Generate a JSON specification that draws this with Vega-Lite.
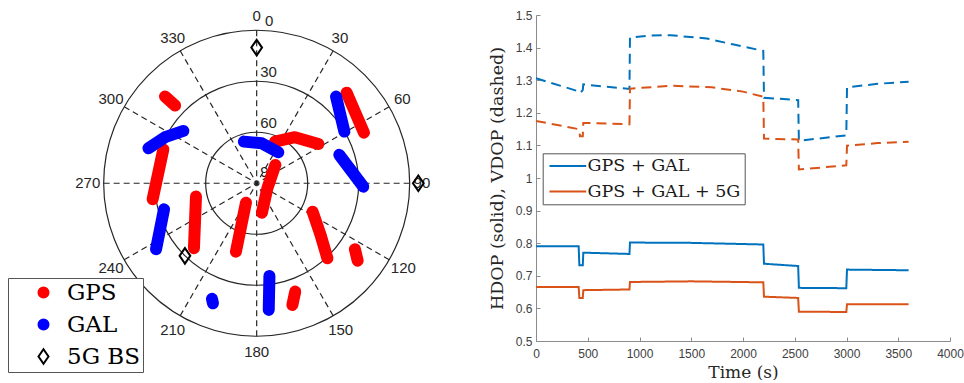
{
  "$schema": "https://vega.github.io/schema/vega-lite/v6.json",
  "padding": 0,
  "background": "white",
  "spacing": 66,
  "bounds": "flush",
  "center": true,
  "config": {"view": {"stroke": null}, "font": "Liberation Sans"},
  "resolve": {"scale": {"color": "independent", "size": "independent", "fill": "independent", "stroke": "independent", "shape": "independent", "strokeDash": "independent"}},
  "hconcat": [
    {
      "width": 470,
      "height": 356,
      "encoding": {
        "x": {"field": "e", "type": "quantitative", "scale": {"domain": [-151, 125.5], "nice": false, "zero": false}, "axis": null},
        "y": {"field": "n", "type": "quantitative", "scale": {"domain": [-101.6, 107.8], "nice": false, "zero": false}, "axis": null}
      },
      "layer": [
        {
          "data": {"values": [{"zen": 90, "e": 0, "n": 0}, {"zen": 60, "e": 0, "n": 0}, {"zen": 30, "e": 0, "n": 0}]},
          "mark": {"type": "point", "shape": "circle", "filled": false, "stroke": "#262626", "strokeWidth": 1.2, "opacity": 1},
          "encoding": {"size": {"field": "zen", "type": "quantitative", "scale": {"type": "pow", "exponent": 2, "domain": [0, 90], "range": [0, 93636]}, "legend": null}}
        },
        {
          "data": {"values": [
            {"e": 0, "n": 90, "e2": 0, "n2": -90},
            {"e": 45, "n": 77.94, "e2": -45, "n2": -77.94},
            {"e": 77.94, "n": 45, "e2": -77.94, "n2": -45},
            {"e": 90, "n": 0, "e2": -90, "n2": 0},
            {"e": 77.94, "n": -45, "e2": -77.94, "n2": 45},
            {"e": 45, "n": -77.94, "e2": -45, "n2": 77.94}
          ]},
          "mark": {"type": "rule", "strokeDash": [6, 4], "stroke": "#262626", "strokeWidth": 1.2},
          "encoding": {"x2": {"field": "e2"}, "y2": {"field": "n2"}}
        },
        {
          "data": {"values": [
            {"label": "0", "e": 0, "n": 98.6}, {"label": "30", "e": 49.0, "n": 85.3}, {"label": "60", "e": 85.7, "n": 49.4},
            {"label": "90", "e": 97.2, "n": 0}, {"label": "120", "e": 86.3, "n": -50.0}, {"label": "150", "e": 49.4, "n": -86.3},
            {"label": "180", "e": 0, "n": -99.4}, {"label": "210", "e": -49.4, "n": -86.3}, {"label": "240", "e": -85.7, "n": -49.6},
            {"label": "270", "e": -99.4, "n": 0}, {"label": "300", "e": -85.7, "n": 49.4}, {"label": "330", "e": -49.4, "n": 85.3}
          ]},
          "mark": {"type": "text", "font": "Liberation Sans", "fontSize": 15, "fill": "#262626", "align": "center", "baseline": "middle"},
          "encoding": {"text": {"field": "label"}}
        },
        {
          "data": {"values": [
            {"label": "0", "e": 7.4, "n": 95.6}, {"label": "30", "e": 7.0, "n": 65.6}, {"label": "60", "e": 7.0, "n": 35.6}, {"label": "90", "e": 7.0, "n": 6.5}
          ]},
          "mark": {"type": "text", "font": "Liberation Sans", "fontSize": 15, "fill": "#262626", "align": "center", "baseline": "middle"},
          "encoding": {"text": {"field": "label"}}
        },
        {
          "data": {"values": [
            {"sys": "5G BS", "e": 0, "n": 79.8}, {"sys": "5G BS", "e": 95.1, "n": 0}, {"sys": "5G BS", "e": -42.2, "n": -42.7}
          ]},
          "mark": {"type": "point", "filled": true, "size": 115, "strokeWidth": 2, "opacity": 1},
          "encoding": {
            "fill": {"field": "sys", "type": "nominal", "scale": {"domain": ["GPS", "GAL", "5G BS"], "range": ["#ff0000", "#0000ff", "transparent"]},
              "legend": {"title": null, "orient": "none", "legendX": 8, "legendY": 278, "padding": 3, "strokeColor": "#555555", "fillColor": "white", "labelFont": "DejaVu Serif", "labelFontSize": 23, "labelColor": "black", "symbolSize": 100, "symbolStrokeWidth": 2, "rowPadding": 8, "symbolOffset": 21, "labelOffset": 12}},
            "stroke": {"field": "sys", "type": "nominal", "scale": {"domain": ["GPS", "GAL", "5G BS"], "range": ["#ff0000", "#0000ff", "#000000"]},
              "legend": {"title": null, "orient": "none", "legendX": 8, "legendY": 278, "padding": 3, "strokeColor": "#555555", "fillColor": "white", "labelFont": "DejaVu Serif", "labelFontSize": 23, "labelColor": "black", "symbolSize": 100, "symbolStrokeWidth": 2, "rowPadding": 8, "symbolOffset": 21, "labelOffset": 12}},
            "shape": {"field": "sys", "type": "nominal", "scale": {"domain": ["GPS", "GAL", "5G BS"], "range": ["circle", "circle", "M0,-1.45L1,0L0,1.45L-1,0Z"]},
              "legend": {"title": null, "orient": "none", "legendX": 8, "legendY": 278, "padding": 3, "strokeColor": "#555555", "fillColor": "white", "labelFont": "DejaVu Serif", "labelFontSize": 23, "labelColor": "black", "symbolSize": 100, "symbolStrokeWidth": 2, "rowPadding": 8, "symbolOffset": 21, "labelOffset": 12}}
          }
        },
        {
          "data": {"values": [
            {"id": "R1", "sys": "GPS", "k": 0, "e": -53.9, "n": 51.0}, {"id": "R1", "sys": "GPS", "k": 1, "e": -48.0, "n": 45.7},
            {"id": "R2", "sys": "GPS", "k": 0, "e": 52.9, "n": 53.3}, {"id": "R2", "sys": "GPS", "k": 1, "e": 63.1, "n": 29.8},
            {"id": "R3", "sys": "GPS", "k": 0, "e": 10.8, "n": 24.5}, {"id": "R3", "sys": "GPS", "k": 1, "e": 22.5, "n": 27.1}, {"id": "R3", "sys": "GPS", "k": 2, "e": 36.3, "n": 23.1},
            {"id": "R4", "sys": "GPS", "k": 0, "e": -54.9, "n": 20.0}, {"id": "R4", "sys": "GPS", "k": 1, "e": -61.2, "n": -9.4},
            {"id": "R5", "sys": "GPS", "k": 0, "e": -35.7, "n": -7.8}, {"id": "R5", "sys": "GPS", "k": 1, "e": -36.9, "n": -38.2},
            {"id": "R6", "sys": "GPS", "k": 0, "e": -6.3, "n": -11.4}, {"id": "R6", "sys": "GPS", "k": 1, "e": -12.2, "n": -40.2},
            {"id": "R7", "sys": "GPS", "k": 0, "e": 11.0, "n": 10.8}, {"id": "R7", "sys": "GPS", "k": 1, "e": 6.3, "n": -2.9}, {"id": "R7", "sys": "GPS", "k": 2, "e": 3.1, "n": -17.3},
            {"id": "R8", "sys": "GPS", "k": 0, "e": 32.9, "n": -16.7}, {"id": "R8", "sys": "GPS", "k": 1, "e": 37.6, "n": -30.4}, {"id": "R8", "sys": "GPS", "k": 2, "e": 41.6, "n": -44.1},
            {"id": "R9", "sys": "GPS", "k": 0, "e": 57.8, "n": -38.8}, {"id": "R9", "sys": "GPS", "k": 1, "e": 59.4, "n": -45.5},
            {"id": "R10", "sys": "GPS", "k": 0, "e": 22.7, "n": -63.7}, {"id": "R10", "sys": "GPS", "k": 1, "e": 21.0, "n": -71.6},
            {"id": "B1", "sys": "GAL", "k": 0, "e": -63.7, "n": 20.6}, {"id": "B1", "sys": "GAL", "k": 1, "e": -53.9, "n": 27.1}, {"id": "B1", "sys": "GAL", "k": 2, "e": -43.1, "n": 30.8},
            {"id": "B2", "sys": "GAL", "k": 0, "e": 46.7, "n": 51.0}, {"id": "B2", "sys": "GAL", "k": 1, "e": 51.6, "n": 30.4},
            {"id": "B3", "sys": "GAL", "k": 0, "e": -7.5, "n": 24.5}, {"id": "B3", "sys": "GAL", "k": 1, "e": 2.9, "n": 23.5}, {"id": "B3", "sys": "GAL", "k": 2, "e": 12.7, "n": 18.2},
            {"id": "B4", "sys": "GAL", "k": 0, "e": 48.6, "n": 16.7}, {"id": "B4", "sys": "GAL", "k": 1, "e": 62.7, "n": -2.0},
            {"id": "B5", "sys": "GAL", "k": 0, "e": -54.5, "n": -15.3}, {"id": "B5", "sys": "GAL", "k": 1, "e": -59.2, "n": -38.8},
            {"id": "B6", "sys": "GAL", "k": 0, "e": -26.3, "n": -68.0}, {"id": "B6", "sys": "GAL", "k": 1, "e": -25.7, "n": -70.6},
            {"id": "B7", "sys": "GAL", "k": 0, "e": 7.5, "n": -54.5}, {"id": "B7", "sys": "GAL", "k": 1, "e": 7.1, "n": -74.5}
          ]},
          "mark": {"type": "line", "strokeWidth": 12, "strokeCap": "round", "strokeJoin": "round"},
          "encoding": {
            "color": {"field": "sys", "type": "nominal", "scale": {"domain": ["GPS", "GAL"], "range": ["#ff0000", "#0000ff"]}, "legend": null},
            "detail": {"field": "id"},
            "order": {"field": "k", "type": "quantitative"}
          }
        }
      ]
    },
    {
      "width": 414,
      "height": 326,
      "data": {"values": [
        {"series": "GPS + GAL", "dop": "HDOP", "t": 0, "v": 0.791}, {"series": "GPS + GAL", "dop": "HDOP", "t": 412, "v": 0.791},
        {"series": "GPS + GAL", "dop": "HDOP", "t": 419, "v": 0.732}, {"series": "GPS + GAL", "dop": "HDOP", "t": 452, "v": 0.732},
        {"series": "GPS + GAL", "dop": "HDOP", "t": 457, "v": 0.771}, {"series": "GPS + GAL", "dop": "HDOP", "t": 903, "v": 0.767},
        {"series": "GPS + GAL", "dop": "HDOP", "t": 908, "v": 0.802}, {"series": "GPS + GAL", "dop": "HDOP", "t": 1500, "v": 0.801},
        {"series": "GPS + GAL", "dop": "HDOP", "t": 2196, "v": 0.796}, {"series": "GPS + GAL", "dop": "HDOP", "t": 2203, "v": 0.737},
        {"series": "GPS + GAL", "dop": "HDOP", "t": 2533, "v": 0.730}, {"series": "GPS + GAL", "dop": "HDOP", "t": 2540, "v": 0.663},
        {"series": "GPS + GAL", "dop": "HDOP", "t": 2998, "v": 0.662}, {"series": "GPS + GAL", "dop": "HDOP", "t": 3005, "v": 0.719},
        {"series": "GPS + GAL", "dop": "HDOP", "t": 3600, "v": 0.717},
        {"series": "GPS + GAL + 5G", "dop": "HDOP", "t": 0, "v": 0.666}, {"series": "GPS + GAL + 5G", "dop": "HDOP", "t": 412, "v": 0.666},
        {"series": "GPS + GAL + 5G", "dop": "HDOP", "t": 419, "v": 0.632}, {"series": "GPS + GAL + 5G", "dop": "HDOP", "t": 452, "v": 0.632},
        {"series": "GPS + GAL + 5G", "dop": "HDOP", "t": 457, "v": 0.656}, {"series": "GPS + GAL + 5G", "dop": "HDOP", "t": 903, "v": 0.658},
        {"series": "GPS + GAL + 5G", "dop": "HDOP", "t": 908, "v": 0.681}, {"series": "GPS + GAL + 5G", "dop": "HDOP", "t": 1500, "v": 0.683},
        {"series": "GPS + GAL + 5G", "dop": "HDOP", "t": 2196, "v": 0.680}, {"series": "GPS + GAL + 5G", "dop": "HDOP", "t": 2203, "v": 0.636},
        {"series": "GPS + GAL + 5G", "dop": "HDOP", "t": 2533, "v": 0.632}, {"series": "GPS + GAL + 5G", "dop": "HDOP", "t": 2540, "v": 0.590},
        {"series": "GPS + GAL + 5G", "dop": "HDOP", "t": 2998, "v": 0.589}, {"series": "GPS + GAL + 5G", "dop": "HDOP", "t": 3005, "v": 0.613},
        {"series": "GPS + GAL + 5G", "dop": "HDOP", "t": 3600, "v": 0.613},
        {"series": "GPS + GAL", "dop": "VDOP", "t": 0, "v": 1.306}, {"series": "GPS + GAL", "dop": "VDOP", "t": 410, "v": 1.266},
        {"series": "GPS + GAL", "dop": "VDOP", "t": 430, "v": 1.261}, {"series": "GPS + GAL", "dop": "VDOP", "t": 452, "v": 1.270},
        {"series": "GPS + GAL", "dop": "VDOP", "t": 457, "v": 1.287}, {"series": "GPS + GAL", "dop": "VDOP", "t": 903, "v": 1.273},
        {"series": "GPS + GAL", "dop": "VDOP", "t": 908, "v": 1.431}, {"series": "GPS + GAL", "dop": "VDOP", "t": 1100, "v": 1.437},
        {"series": "GPS + GAL", "dop": "VDOP", "t": 1300, "v": 1.438}, {"series": "GPS + GAL", "dop": "VDOP", "t": 1650, "v": 1.428},
        {"series": "GPS + GAL", "dop": "VDOP", "t": 1900, "v": 1.410}, {"series": "GPS + GAL", "dop": "VDOP", "t": 2196, "v": 1.390},
        {"series": "GPS + GAL", "dop": "VDOP", "t": 2203, "v": 1.246}, {"series": "GPS + GAL", "dop": "VDOP", "t": 2533, "v": 1.239},
        {"series": "GPS + GAL", "dop": "VDOP", "t": 2540, "v": 1.114}, {"series": "GPS + GAL", "dop": "VDOP", "t": 2998, "v": 1.131},
        {"series": "GPS + GAL", "dop": "VDOP", "t": 3005, "v": 1.278}, {"series": "GPS + GAL", "dop": "VDOP", "t": 3300, "v": 1.289},
        {"series": "GPS + GAL", "dop": "VDOP", "t": 3600, "v": 1.295},
        {"series": "GPS + GAL + 5G", "dop": "VDOP", "t": 0, "v": 1.175}, {"series": "GPS + GAL + 5G", "dop": "VDOP", "t": 410, "v": 1.150},
        {"series": "GPS + GAL + 5G", "dop": "VDOP", "t": 419, "v": 1.145}, {"series": "GPS + GAL + 5G", "dop": "VDOP", "t": 425, "v": 1.128},
        {"series": "GPS + GAL + 5G", "dop": "VDOP", "t": 452, "v": 1.128}, {"series": "GPS + GAL + 5G", "dop": "VDOP", "t": 457, "v": 1.169},
        {"series": "GPS + GAL + 5G", "dop": "VDOP", "t": 903, "v": 1.165}, {"series": "GPS + GAL + 5G", "dop": "VDOP", "t": 908, "v": 1.274},
        {"series": "GPS + GAL + 5G", "dop": "VDOP", "t": 1300, "v": 1.283}, {"series": "GPS + GAL + 5G", "dop": "VDOP", "t": 1700, "v": 1.278},
        {"series": "GPS + GAL + 5G", "dop": "VDOP", "t": 2000, "v": 1.265}, {"series": "GPS + GAL + 5G", "dop": "VDOP", "t": 2196, "v": 1.249},
        {"series": "GPS + GAL + 5G", "dop": "VDOP", "t": 2203, "v": 1.121}, {"series": "GPS + GAL + 5G", "dop": "VDOP", "t": 2533, "v": 1.118},
        {"series": "GPS + GAL + 5G", "dop": "VDOP", "t": 2540, "v": 1.026}, {"series": "GPS + GAL + 5G", "dop": "VDOP", "t": 2998, "v": 1.039},
        {"series": "GPS + GAL + 5G", "dop": "VDOP", "t": 3005, "v": 1.099}, {"series": "GPS + GAL + 5G", "dop": "VDOP", "t": 3300, "v": 1.107},
        {"series": "GPS + GAL + 5G", "dop": "VDOP", "t": 3600, "v": 1.111}
      ]},
      "mark": {"type": "line", "strokeWidth": 2},
      "encoding": {
        "x": {"field": "t", "type": "quantitative", "scale": {"domain": [0, 4000], "nice": false, "zero": false},
          "axis": {"title": "Time (s)", "values": [0, 500, 1000, 1500, 2000, 2500, 3000, 3500, 4000], "format": "d", "grid": false,
            "labelFont": "Liberation Sans", "labelFontSize": 12, "labelColor": "#404040", "labelFlush": false, "labelOverlap": false, "labelPadding": 11,
            "tickSize": -4, "tickColor": "#8c8c8c", "domainColor": "#8c8c8c",
            "titleFont": "DejaVu Serif", "titleFontSize": 17, "titleFontWeight": "normal", "titleColor": "#262626", "titleY": 31, "titleBaseline": "middle"}},
        "y": {"field": "v", "type": "quantitative", "scale": {"domain": [0.5, 1.5], "nice": false, "zero": false},
          "axis": {"title": "HDOP (solid), VDOP (dashed)", "values": [0.5, 0.6, 0.7, 0.8, 0.9, 1.0, 1.1, 1.2, 1.3, 1.4, 1.5], "format": ".1~f", "grid": false,
            "labelFont": "Liberation Sans", "labelFontSize": 12, "labelColor": "#404040", "labelFlush": false, "labelOverlap": false, "labelPadding": 8,
            "tickSize": -4, "tickColor": "#8c8c8c", "domainColor": "#8c8c8c",
            "titleFont": "DejaVu Serif", "titleFontSize": 17.5, "titleFontWeight": "normal", "titleColor": "#262626", "titleX": -39, "titleY": 163, "titleBaseline": "middle", "titleAngle": -90}},
        "color": {"field": "series", "type": "nominal", "scale": {"domain": ["GPS + GAL", "GPS + GAL + 5G"], "range": ["#0072BD", "#D95319"]},
          "legend": {"title": null, "orient": "none", "legendX": 6.7, "legendY": 138.3, "padding": 4, "strokeColor": "#555555", "fillColor": "white",
            "labelFont": "DejaVu Serif", "labelFontSize": 17.5, "labelColor": "#1a1a1a", "symbolType": "M-3,0L3,0", "symbolSize": 150, "symbolStrokeWidth": 2, "symbolOffset": 12.4, "labelOffset": 11, "rowPadding": 6.5}},
        "strokeDash": {"field": "dop", "type": "nominal", "scale": {"domain": ["HDOP", "VDOP"], "range": [[1, 0], [10, 6]]}, "legend": null}
      }
    }
  ]
}
